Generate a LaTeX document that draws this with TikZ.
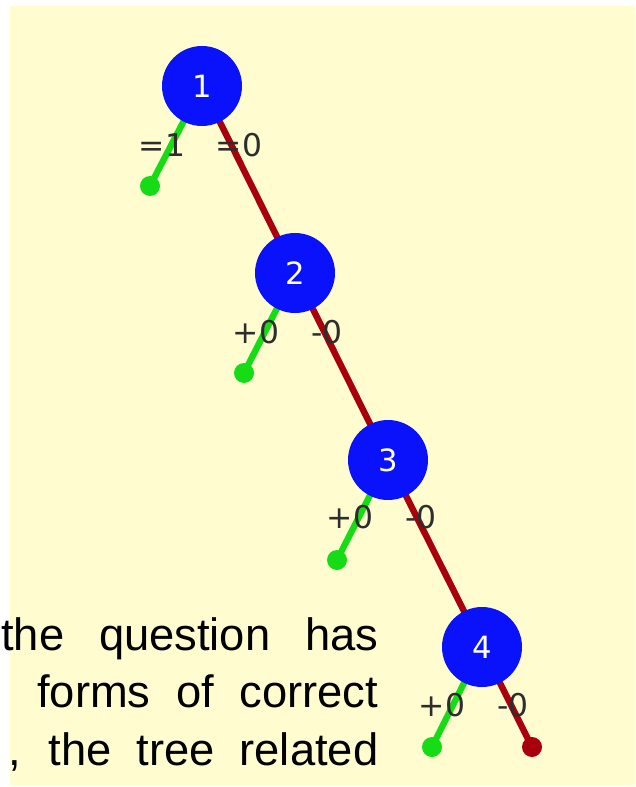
\documentclass[tikz,border=0pt]{standalone}
\usepackage{fontspec}
\setmainfont{Liberation Sans}
\newfontfamily\labelfont{DejaVu Sans}
\usetikzlibrary{backgrounds}
\definecolor{bgyellow}{RGB}{255, 253, 208}
\definecolor{nodeblue}{RGB}{10, 18, 252}
\definecolor{leafgreen}{RGB}{22, 220, 22}
\definecolor{leafred}{RGB}{168, 0, 12}
\definecolor{labelgray}{RGB}{45, 45, 45}

\begin{document}
\begin{tikzpicture}[x=0.75pt, y=-0.75pt,
	treenode/.style={circle, fill=nodeblue, minimum size=60pt, inner sep=0pt,
		text=white, font=\labelfont\fontsize{23}{23}\selectfont},
	leaf/.style={circle, fill=#1, minimum size=15pt, inner sep=0pt},
	branchlbl/.style={inner sep=0pt, text=labelgray, font=\labelfont\fontsize{23.5}{23.5}\selectfont},
	branch/.style={draw=#1, line width=4.8pt},
	bodytext/.style={inner sep=0pt, anchor=base west, font=\fontsize{34}{40}\selectfont}]
			\useasboundingbox (0,0) rectangle (635,787);

			% tree nodes
			\node[treenode] (n1) at (202, 86) {1};
			\node[treenode] (n2) at (295, 273) {2};
			\node[treenode] (n3) at (388, 460) {3};
			\node[treenode] (n4) at (482, 647) {4};

			% leaves
			\node[leaf=leafgreen] (g1) at (150, 186) {};
			\node[leaf=leafgreen] (g2) at (244, 373) {};
			\node[leaf=leafgreen] (g3) at (337, 560) {};
			\node[leaf=leafgreen] (g4) at (432, 747) {};
			\node[leaf=leafred] (r4) at (532, 747) {};

			\begin{scope}[on background layer]
				\fill[bgyellow] (10, 6) rectangle (635, 785);
				% red path
				\draw[branch=leafred] (n1.center) -- (n2.center) -- (n3.center) -- (n4.center) -- (r4.center);
				% green branches
				\draw[branch=leafgreen] (n1.center) -- (g1.center);
				\draw[branch=leafgreen] (n2.center) -- (g2.center);
				\draw[branch=leafgreen] (n3.center) -- (g3.center);
				\draw[branch=leafgreen] (n4.center) -- (g4.center);
			\end{scope}

			% branch labels
			\node[branchlbl] (l1a) at (162, 145) {=1};
			\node[branchlbl] (l1b) at (239, 145) {=0};
			\node[branchlbl] (l2a) at (256, 332) {+0};
			\node[branchlbl] (l2b) at (327, 332) {-0};
			\node[branchlbl] (l3a) at (350, 517) {+0};
			\node[branchlbl] (l3b) at (421, 517) {-0};
			\node[branchlbl] (l4a) at (442, 705) {+0};
			\node[branchlbl] (l4b) at (513, 705) {-0};

			% text of the page
			\node[bodytext] (t1) at (1, 650) {\makebox[282.75pt][s]{the question has}};
			\node[bodytext] (t2) at (37, 707.5) {\makebox[255.75pt][s]{forms of correct}};
			\node[bodytext] (t3) at (8, 765) {\makebox[277.5pt][s]{, the tree related}};

		\end{tikzpicture}
\end{document}
